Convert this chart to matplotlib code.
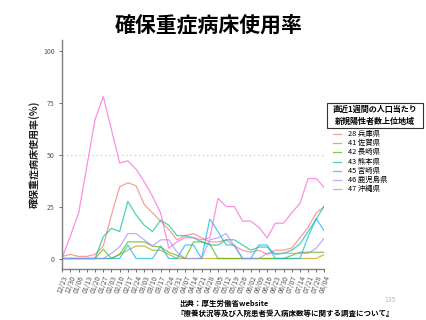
import matplotlib
matplotlib.use("Agg")
import matplotlib.pyplot as plt
from matplotlib.lines import Line2D
from matplotlib.patches import Rectangle

plt.rcParams['font.family'] = ['Noto Sans CJK JP', 'DejaVu Sans']

dates = ["12/23","12/30","01/06","01/13","01/20","01/27","02/03","02/10","02/17","02/24",
         "03/03","03/10","03/17","03/24","03/31","04/07","04/14","04/21","04/28","05/05",
         "05/12","05/19","05/26","06/02","06/09","06/16","06/23","06/30","07/07","07/14",
         "07/21","07/28","08/04"]

hyogo = [1, 2, 1, 1, 2, 6, 21, 34.5, 36.5, 35, 26, 22, 18, 14, 9, 11, 12, 10, 8, 8,
         9, 6, 4, 3, 4, 2, 4, 4, 5, 10, 15, 22, 25]
saga = [0, 0, 0, 0, 0, 0, 0, 2, 4, 6, 6, 4, 4, 2, 0, 0, 0, 0, 0, 0,
        0, 0, 0, 0, 0, 0, 0, 0, 0, 0, 0, 0, 2]
nagasaki = [0, 0, 0, 0, 0, 4.5, 0, 2, 8, 8, 8, 6, 5.5, 3, 1.5, 0, 8, 8, 7, 0,
            0, 0, 0, 0, 0, 0, 0, 0, 1.5, 3, 3, 3, 3]
kumamoto = [0, 0, 0, 0, 0, 10.5, 14.5, 13, 27.5, 21, 16, 13, 18.5, 16, 11, 11, 10, 8, 6.5, 6.5,
            9, 9, 6.5, 4, 5.5, 5.5, 2, 2.5, 4, 7, 13, 19, 25.5]
miyazaki = [0, 0, 0, 0, 0, 0, 0, 0, 6.5, 0, 0, 0, 6, 0, 0, 6.5, 6.5, 0, 19, 13,
            6.5, 6.5, 0, 0, 6.5, 6.5, 0, 0, 0, 0, 10.5, 19.3, 13]
kagoshima = [0, 0, 0, 0, 0, 0, 2.5, 5.7, 12, 12, 9, 6, 9, 9, 3, 0, 0, 0, 9, 10,
             12, 6, 0, 0, 0, 2.5, 2.5, 2.5, 2.5, 2.5, 2.5, 5, 10]
okinawa = [0.5, 11, 22, 44.5, 67, 78, 62, 46, 47, 43, 37, 30, 22, 5, 8, 10, 10, 9, 10, 29,
           25, 25, 18, 18, 15, 10, 17, 17, 22, 26.5, 38.5, 38.5, 34]

series_labels = ["28 兵庫県", "41 佐賀県", "42 長崎県", "43 熊本県", "45 宮崎県", "46 鹿児島県", "47 沖縄県"]
series_values = [hyogo, saga, nagasaki, kumamoto, miyazaki, kagoshima, okinawa]
colors = ["#F8766D", "#C49A00", "#53B400", "#00C094", "#00B6EB", "#A58AFF", "#FB61D7"]

title = "確保重症病床使用率"
ylabel = "確保重症病床使用率(%)"
legend_title = "直近1週間の人口当たり\n新規陽性者数上位地域"
caption1 = "出典：厚生労働省website"
caption2 = "『療養状況等及び入院患者受入病床数等に関する調査について』"
page = "135"

W, H = 427.0, 320.0
fig = plt.figure(figsize=(4.27, 3.2), dpi=100)
ax = fig.add_axes([62.3 / W, 1 - 269 / H, (324.5 - 62.3) / W, (269 - 40) / H])

x = list(range(len(dates)))
for vals, col, lab in zip(series_values, colors, series_labels):
    ax.plot(x, vals, color=col, alpha=0.7, lw=0.9, label=lab)

ax.axhline(50, color="#cfcfcf", lw=0.9, ls=(0, (1.2, 2.2)), zorder=0)

ax.set_xlim(0, len(dates) - 1)
ax.set_ylim(-5.05, 105.2)
ax.set_yticks([0, 25, 50, 75, 100])
ax.set_xticks(x)
ax.set_xticklabels(dates, rotation=70, ha="right", rotation_mode="anchor")
ax.tick_params(axis="both", colors="#555555", labelsize=5, length=2, width=0.6)
ax.tick_params(axis="x", pad=2)
for s in ["top", "right"]:
    ax.spines[s].set_visible(False)
for s in ["left", "bottom"]:
    ax.spines[s].set_color("#7f7f7f")
    ax.spines[s].set_linewidth(1.0)
ax.set_ylabel(ylabel, fontsize=7.2, color="#222222", labelpad=2, fontweight="bold")

fig.text(0.488, 0.922, title, ha="center", va="center", fontsize=15, fontweight="bold")

# legend title box
fig.add_artist(Rectangle((327 / W, 1 - 128 / H), 96 / W, 25 / H, transform=fig.transFigure,
                         fc="white", ec="#333333", lw=0.8))
fig.text(375 / W, 1 - 115.5 / H, legend_title, ha="center", va="center", fontsize=5.8,
         linespacing=1.45, fontweight="bold")
# legend entries
for k, (c, lab) in enumerate(zip(colors, series_labels)):
    yy = 1 - (134 + 9.17 * k) / H
    fig.add_artist(Line2D([333 / W, 341 / W], [yy, yy], transform=fig.transFigure,
                          color=c, alpha=0.7, lw=0.9))
    fig.text(348 / W, yy, lab, ha="left", va="center", fontsize=5.3)

fig.text(179 / W, 1 - 303 / H, caption1, ha="left", va="center", fontsize=5.4, fontweight="bold")
fig.text(177 / W, 1 - 313.3 / H, caption2, ha="left", va="center", fontsize=5.4, fontweight="bold")
fig.text(390 / W, 1 - 300 / H, page, ha="center", va="center", fontsize=5, color="#bbbbbb")

fig.savefig("out.png", dpi=100)
